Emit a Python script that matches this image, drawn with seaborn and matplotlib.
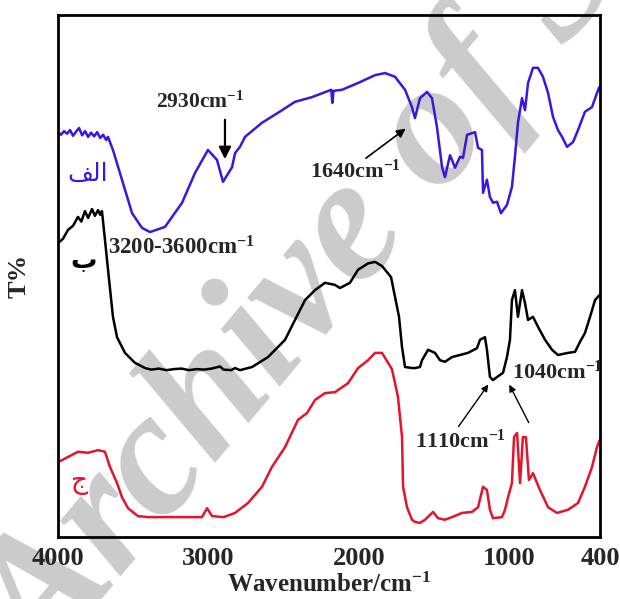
import numpy as np
import pandas as pd
import matplotlib
matplotlib.use("Agg")
import matplotlib.pyplot as plt
import seaborn as sns

# ---------------- data (wavenumber cm-1, transmittance a.u.) ----------------
blue_wn = [4000, 3980, 3960, 3940, 3920, 3900, 3880, 3860, 3840, 3820, 3800, 3780,
           3760, 3740, 3720, 3700, 3680, 3668, 3635, 3575, 3508, 3442, 3389, 3289,
           3176, 3090, 3004, 2944, 2904, 2844, 2824, 2791, 2758, 2645, 2539, 2426,
           2313, 2185, 2178, 2170, 2114, 2007, 1894, 1828, 1762, 1695, 1649, 1629,
           1596, 1549, 1516, 1483, 1449, 1430, 1396, 1363, 1330, 1310, 1283, 1230,
           1210, 1184, 1177, 1151, 1131, 1111, 1084, 1058, 1018, 985, 965, 945, 918,
           898, 878, 845, 812, 779, 745, 712, 679, 652, 619, 579, 546, 500, 453, 420, 405]
blue_t = [77.4, 76.9, 77.6, 77.1, 77.8, 76.7, 77.5, 78.2, 76.8, 77.6, 76.5, 77.3,
          76.6, 77.4, 76.3, 76.9, 75.9, 76.5, 74.0, 68.3, 61.9, 59.1, 58.3, 59.3,
          63.9, 69.6, 74.0, 72.1, 67.9, 70.7, 73.4, 74.6, 76.5, 79.2, 81.1, 83.2,
          84.1, 85.5, 83.0, 85.3, 85.5, 86.8, 88.3, 88.7, 88.0, 85.5, 82.2, 80.1,
          83.9, 85.1, 83.9, 78.4, 70.7, 68.8, 73.0, 70.6, 72.7, 72.5, 76.9, 77.4,
          74.4, 74.0, 65.8, 68.3, 65.0, 63.9, 64.1, 61.9, 63.5, 66.9, 72.7, 79.2, 83.9,
          81.6, 86.8, 89.7, 89.7, 88.0, 84.9, 80.3, 77.8, 76.5, 74.6, 75.5, 77.8, 81.3,
          82.2, 84.9, 86.0]

black_wn = [4000, 3967, 3934, 3900, 3867, 3845, 3821, 3800, 3774, 3755, 3734, 3720,
            3708, 3688, 3662, 3635, 3608, 3555, 3489, 3422, 3380, 3330, 3280, 3230,
            3180, 3130, 3080, 3030, 2980, 2924, 2900, 2850, 2824, 2791, 2711, 2605,
            2492, 2426, 2359, 2293, 2227, 2160, 2127, 2061, 2007, 1941, 1894, 1848,
            1788, 1735, 1715, 1695, 1649, 1629, 1596, 1582, 1542, 1496, 1463, 1430,
            1383, 1330, 1277, 1217, 1197, 1164, 1151, 1131, 1111, 1064, 1044, 1018,
            998, 985, 965, 945, 918, 898, 878, 845, 812, 765, 719, 679, 613, 566, 533,
            500, 466, 433, 405]
black_t = [56.2, 57.0, 58.7, 59.5, 61.2, 60.3, 62.3, 61.0, 62.7, 61.4, 62.5, 61.6,
           62.3, 56.8, 49.5, 42.1, 38.2, 35.2, 33.3, 32.3, 32.0, 32.2, 31.9, 32.1,
           32.2, 31.9, 32.1, 32.0, 32.2, 32.6, 32.0, 31.9, 32.3, 31.9, 32.5, 34.4,
           37.7, 41.5, 45.3, 47.2, 48.6, 48.2, 47.6, 48.6, 51.1, 52.3, 52.6, 51.8,
           49.7, 42.1, 36.3, 32.5, 32.3, 32.3, 32.5, 33.8, 35.8, 35.2, 33.8, 33.5,
           34.4, 34.8, 35.2, 36.1, 37.7, 38.2, 35.8, 30.6, 30.0, 31.0, 31.4, 34.4,
           37.7, 45.3, 47.2, 42.1, 47.2, 44.7, 41.5, 42.1, 40.2, 37.7, 35.8, 34.8, 35.2,
           35.4, 37.3, 39.0, 42.1, 45.3, 46.2]

red_wn = [4000, 3934, 3867, 3801, 3734, 3688, 3655, 3608, 3575, 3535, 3469, 3402,
          3300, 3150, 3044, 3010, 2977, 2900, 2824, 2738, 2645, 2579, 2492, 2406,
          2346, 2293, 2227, 2160, 2074, 2007, 1941, 1894, 1848, 1782, 1742, 1715,
          1708, 1682, 1649, 1629, 1596, 1562, 1509, 1476, 1430, 1383, 1317, 1250,
          1210, 1177, 1151, 1131, 1111, 1051, 1031, 1011, 985, 971, 951, 931, 912,
          892, 872, 845, 799, 745, 686, 613, 546, 500, 453, 420, 405]
red_t = [14.3, 15.3, 16.3, 16.1, 16.6, 16.3, 13.4, 10.3, 7.6, 5.5, 4.0, 3.8,
         3.8, 3.8, 3.8, 5.5, 4.0, 3.8, 4.6, 6.5, 9.6, 13.4, 17.2, 22.4,
         23.7, 26.2, 27.5, 27.7, 29.4, 32.3, 33.8, 35.2, 35.2, 32.1, 26.8, 19.1,
         9.6, 5.7, 3.3, 2.9, 2.7, 3.3, 4.8, 3.6, 3.3, 3.8, 4.6, 4.8,
         5.7, 9.6, 9.0, 5.2, 3.6, 3.8, 5.2, 7.6, 10.3, 19.1, 19.9, 10.3, 19.1,
         19.1, 10.9, 12.2, 9.0, 5.7, 4.6, 5.2, 6.5, 9.6, 13.4, 17.2, 18.4]

x_ticks = [4000, 3000, 2000, 1000, 400]
x_tick_labels = ["4000", "3000", "2000", "1000", "400"]

# Arabic sample labels (alef-lam-feh written with presentation forms, visual order)
label_a = "\ufed2\ufedf\u0627"   # الف
label_b = "\u0628"                # ب
label_c = "\u062c"                # ج

# ---------------- style ----------------
sns.set_style("white")
plt.rcParams["font.family"] = ["Liberation Serif", "DejaVu Sans"]
plt.rcParams["font.weight"] = "bold"
plt.rcParams["mathtext.fontset"] = "custom"
plt.rcParams["mathtext.rm"] = "Liberation Serif:bold"
plt.rcParams["mathtext.it"] = "Liberation Serif:bold:italic"
plt.rcParams["mathtext.bf"] = "Liberation Serif:bold"

fig = plt.figure(figsize=(6.2, 5.99), dpi=100)
ax = fig.add_axes([58 / 620, 62 / 599, 542 / 620, 522 / 599])
ax.set_facecolor("none")

BLUE = "#3b16e0"
RED = "#e5142c"

for wn, t, c in [(blue_wn, blue_t, BLUE), (black_wn, black_t, "black"), (red_wn, red_t, RED)]:
    df = pd.DataFrame({"wn": wn, "T": t})
    sns.lineplot(data=df, x="wn", y="T", sort=False, estimator=None, color=c,
                 lw=1.8, ax=ax)

ax.set_xlim(4000, 400)
ax.set_ylim(0, 99.8)
ax.set_xticks(x_ticks)
ax.set_xticklabels(x_tick_labels, fontsize=19, fontweight="bold")
ax.set_yticks([])
ax.tick_params(axis="x", direction="out", length=3, width=1, pad=4)
for s in ax.spines.values():
    s.set_linewidth(2.0)
    s.set_color("black")

ax.set_xlabel("Wavenumber/cm$^{-1}$", fontsize=18, fontweight="bold", labelpad=2)
ax.set_ylabel("T%", fontsize=19, fontweight="bold", labelpad=20)

# sample labels
ax.text(3801, 69.4, label_a, color=BLUE, fontsize=18, ha="center", va="center",
        family=["DejaVu Sans"], fontweight="normal")
ax.text(3827, 52.8, label_b, color="black", fontsize=19, ha="center", va="center",
        family=["DejaVu Sans"], fontweight="bold")
ax.text(3854, 10.5, label_c, color=RED, fontsize=19, ha="center", va="center",
        family=["DejaVu Sans"], fontweight="normal")

# annotations
ax.text(3057, 83.2, "2930cm$^{-1}$", fontsize=15.5, ha="center", va="center")
ax.annotate("", xy=(2891, 71.7), xytext=(2891, 80.3),
            arrowprops=dict(arrowstyle="-|>", color="black", lw=1.6, mutation_scale=18))

ax.text(2027, 70.0, "1640cm$^{-1}$", fontsize=16, ha="center", va="center")
ax.annotate("", xy=(1676, 78.4), xytext=(1970, 72.1),
            arrowprops=dict(arrowstyle="-|>", color="black", lw=1.2, mutation_scale=13))

ax.text(3668, 55.3, "3200-3600cm$^{-1}$", fontsize=16.5, ha="left", va="center")

ax.text(985, 31.5, "1040cm$^{-1}$", fontsize=16, ha="left", va="center", clip_on=True)
ax.text(1330, 18.4, "1110cm$^{-1}$", fontsize=16, ha="center", va="center")
ax.annotate("", xy=(1131, 29.6), xytext=(1350, 20.7),
            arrowprops=dict(arrowstyle="-|>", color="black", lw=1.0, mutation_scale=10))
ax.annotate("", xy=(1011, 29.6), xytext=(865, 21.4),
            arrowprops=dict(arrowstyle="-|>", color="black", lw=1.0, mutation_scale=10))

# watermark
fig.text(0.075, -0.13, "Archive of SID", rotation=50, rotation_mode="anchor",
         fontsize=128, fontweight="bold", fontstyle="italic", color="#cbcbcb",
         ha="left", va="baseline", zorder=-1, family=["Liberation Serif"])

fig.savefig("out.png", dpi=100)
